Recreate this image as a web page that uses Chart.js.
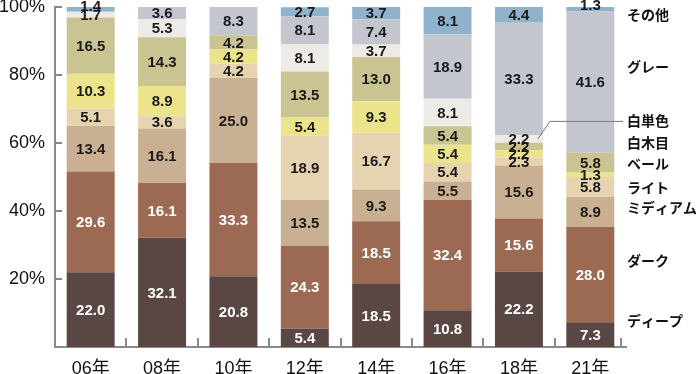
<!DOCTYPE html>
<html>
<head>
<meta charset="utf-8">
<script src="https://cdn.jsdelivr.net/npm/chart.js@4.4.1/dist/chart.umd.min.js"></script>
<style>
  html, body { margin: 0; padding: 0; background: #fff; }
  #wrap { width: 696px; height: 374px; }
</style>
</head>
<body>
<div id="wrap"><canvas id="myChart" width="696" height="374"></canvas></div>
<script>
// categories
const years = ['06年', '08年', '10年', '12年', '14年', '16年', '18年', '21年'];

// series, bottom of the stack to top (%)
const deep   = [22.0, 32.1, 20.8,  5.4, 18.5, 10.8, 22.2,  7.3];
const dark   = [29.6, 16.1, 33.3, 24.3, 18.5, 32.4, 15.6, 28.0];
const medium = [13.4, 16.1, 25.0, 13.5,  9.3,  5.5, 15.6,  8.9];
const light  = [ 5.1,  3.6,  4.2, 18.9, 16.7,  5.4,  2.3,  5.8];
const pale   = [10.3,  8.9,  4.2,  5.4,  9.3,  5.4,  2.2,  1.3];
const whiteWood = [16.5, 14.3, 4.2, 13.5, 13.0, 5.4, 2.2, 5.8];
const whitePlain = [1.7,  5.3,  0,    8.1,  3.7,  8.1,  2.2,  0];
const gray   = [ 0,    3.6,  8.3,  8.1,  7.4, 18.9, 33.3, 41.6];
const other  = [ 1.4,  0,    0,    2.7,  3.7,  8.1,  4.4,  1.3];

const seriesNames = ['ディープ', 'ダーク', 'ミディアム', 'ライト', 'ベール', '白木目', '白単色', 'グレー', 'その他'];
const seriesData = [deep, dark, medium, light, pale, whiteWood, whitePlain, gray, other];
const seriesColors = ['#5a4744', '#9c6a52', '#cab093', '#e6d4b0', '#ece48a', '#c9c491', '#eeebe6', '#c3c6cf', '#8fb3cc'];

// y tick labels
const yTicks = [20, 40, 60, 80, 100];

// where the side names sit, in % of the y axis
const sideLabelAt = [7.6, 25.3, 40.9, 47.0, 53.8, 60.0, 66.5, 82.4, 97.6];

const FONT_NUM = 'bold 15px "Liberation Sans", Arial, sans-serif';
const FONT_SIDE = 'bold 14px "Noto Sans CJK JP", sans-serif';

const extras = {
    id: 'extras',
    afterDatasetsDraw(chart) {
        const ctx = chart.ctx;
        const area = chart.chartArea;
        const yScale = chart.scales.y;

        // value labels inside the segments
        ctx.save();
        ctx.font = FONT_NUM;
        ctx.textAlign = 'center';
        ctx.textBaseline = 'middle';
        chart.data.datasets.forEach((ds, di) => {
            const meta = chart.getDatasetMeta(di);
            meta.data.forEach((bar, i) => {
                const v = ds.data[i];
                if (!v) return;
                let y = (bar.y + bar.base) / 2 + 1;
                // thin segments at the very top: text is pushed up a bit
                if (bar.y - area.top < 3 && v < 2) y -= 4;
                ctx.fillStyle = di < 2 ? '#ffffff' : '#1a1a1a';
                ctx.fillText(v.toFixed(1), bar.x, y);
            });
        });
        ctx.restore();

        // inward ticks on both axes
        ctx.save();
        ctx.strokeStyle = '#8a8a8a';
        ctx.lineWidth = 2;
        ctx.beginPath();
        yTicks.forEach(v => {
            const y = Math.round(yScale.getPixelForValue(v));
            ctx.moveTo(area.left, y);
            ctx.lineTo(area.left + 7, y);
        });
        const step = (area.right - area.left) / years.length;
        for (let i = 1; i <= years.length; i++) {
            const x = Math.round(area.left + i * step) - (i === years.length ? 5 : 0);
            ctx.moveTo(x, area.bottom);
            ctx.lineTo(x, area.bottom - 9);
        }
        ctx.stroke();
        ctx.restore();

        // series names on the right
        ctx.save();
        ctx.font = FONT_SIDE;
        ctx.fillStyle = '#111';
        ctx.textAlign = 'left';
        ctx.textBaseline = 'middle';
        seriesNames.forEach((name, i) => {
            ctx.fillText(name, 627, yScale.getPixelForValue(sideLabelAt[i]));
        });

        // leader line from 白単色 to the 18年 white segment
        const wMeta = chart.getDatasetMeta(6).data[6];
        const ly = yScale.getPixelForValue(sideLabelAt[6]);
        ctx.strokeStyle = '#777';
        ctx.lineWidth = 1;
        ctx.beginPath();
        ctx.moveTo(623, ly + 0.5);
        ctx.lineTo(wMeta.x + 31, ly + 0.5);
        ctx.lineTo(wMeta.x + 19, (wMeta.y + wMeta.base) / 2);
        ctx.stroke();
        ctx.restore();
    }
};

const ctx = document.getElementById('myChart').getContext('2d');
const chart = new Chart(ctx, {
    type: 'bar',
    data: {
        labels: years,
        datasets: seriesData.map((d, i) => ({
            label: seriesNames[i],
            data: d,
            backgroundColor: seriesColors[i],
            borderWidth: 0,
            categoryPercentage: 1,
            barPercentage: 0.672
        }))
    },
    options: {
        responsive: false,
        animation: false,
        devicePixelRatio: 1,
        layout: { padding: { top: 7, right: 70, left: 0, bottom: 0 } },
        plugins: {
            legend: { display: false },
            tooltip: { enabled: false }
        },
        scales: {
            x: {
                stacked: true,
                grid: { display: false, drawTicks: false },
                border: { display: true, color: '#8a8a8a', width: 2 },
                ticks: {
                    color: '#111',
                    padding: 11,
                    font: { family: '"Liberation Sans", "Noto Sans CJK JP", sans-serif', size: 18 }
                },
                afterFit: s => { s.height = 27; s.paddingLeft = 0; s.paddingRight = 0; }
            },
            y: {
                stacked: true,
                min: 0,
                max: 100,
                grid: { display: false, drawTicks: false },
                border: { display: true, color: '#8a8a8a', width: 2 },
                ticks: {
                    stepSize: 20,
                    color: '#111',
                    padding: 10,
                    font: { family: '"Liberation Sans", Arial, sans-serif', size: 18 },
                    callback: v => (v === 0 ? '' : v + '%')
                },
                afterFit: s => { s.width = 55; s.paddingTop = 0; s.paddingBottom = 0; }
            }
        }
    },
    plugins: [extras]
});
</script>
</body>
</html>
